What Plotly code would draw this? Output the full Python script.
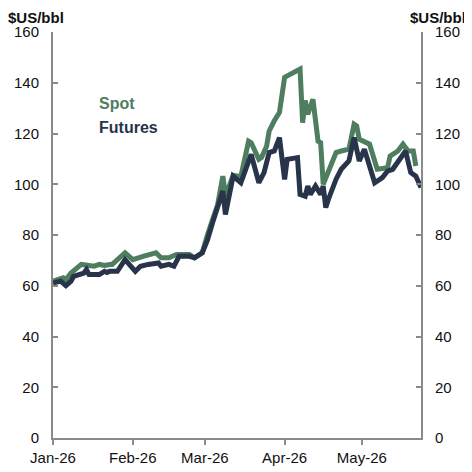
import plotly.graph_objects as go

spot_dates = ["2026-01-01","2026-01-05","2026-01-06","2026-01-08","2026-01-12","2026-01-15","2026-01-17",
              "2026-01-19","2026-01-21","2026-01-23","2026-01-24","2026-01-29","2026-02-01","2026-02-05",
              "2026-02-10","2026-02-12","2026-02-15","2026-02-18","2026-02-23","2026-02-25","2026-02-28",
              "2026-03-02","2026-03-04","2026-03-06","2026-03-08","2026-03-09","2026-03-12","2026-03-15",
              "2026-03-18","2026-03-19","2026-03-22","2026-03-23","2026-03-25","2026-03-26","2026-03-28",
              "2026-03-30","2026-04-01","2026-04-07","2026-04-08","2026-04-09","2026-04-10","2026-04-12",
              "2026-04-14","2026-04-15","2026-04-16","2026-04-20","2026-04-21","2026-04-23","2026-04-26",
              "2026-04-28","2026-04-29","2026-04-30","2026-05-04","2026-05-07","2026-05-11","2026-05-12",
              "2026-05-15","2026-05-17","2026-05-19","2026-05-21","2026-05-22"]
spot_values = [61.8,63.1,62.4,65.0,68.4,67.7,67.7,
               68.4,68.0,68.4,68.4,73.0,70.3,71.6,
               73.0,71.0,71.0,72.3,72.3,71.0,73.0,
               80.0,85.5,92.0,103.2,95.3,103.5,103.0,
               117.0,116.4,109.8,110.5,115.0,121.0,125.0,
               128.3,142.1,145.4,124.3,133.0,127.6,133.5,
               117.0,116.4,100.0,109.8,112.5,113.1,113.8,
               123.7,123.0,117.7,115.8,105.9,106.5,111.1,
               113.1,115.8,113.1,113.1,107.2]

fut_dates = ["2026-01-01","2026-01-04","2026-01-06","2026-01-08","2026-01-09","2026-01-13","2026-01-14",
             "2026-01-15","2026-01-19","2026-01-21","2026-01-22","2026-01-23","2026-01-26","2026-01-29",
             "2026-02-02","2026-02-04","2026-02-07","2026-02-11","2026-02-12","2026-02-15","2026-02-17",
             "2026-02-19","2026-02-23","2026-02-25","2026-02-28","2026-03-02","2026-03-04","2026-03-06",
             "2026-03-08","2026-03-09","2026-03-11","2026-03-12","2026-03-15","2026-03-19","2026-03-22",
             "2026-03-24","2026-03-26","2026-03-28","2026-03-30","2026-04-01","2026-04-02","2026-04-06",
             "2026-04-07","2026-04-09","2026-04-10","2026-04-11","2026-04-13","2026-04-15","2026-04-16",
             "2026-04-17","2026-04-18","2026-04-21","2026-04-23","2026-04-26","2026-04-28","2026-04-30",
             "2026-05-02","2026-05-06","2026-05-09","2026-05-11","2026-05-13","2026-05-16","2026-05-18",
             "2026-05-20","2026-05-22","2026-05-24"]
fut_values = [61.1,61.8,60.0,61.8,63.7,65.0,66.4,
              64.4,64.4,65.7,65.2,65.7,65.7,70.3,
              65.7,67.7,68.4,69.0,67.7,68.4,67.7,
              71.6,71.6,71.0,73.0,78.0,84.8,91.4,
              97.3,88.1,97.3,103.2,100.6,111.8,100.6,
              104.6,112.5,113.1,118.4,101.9,109.8,110.5,
              96.0,95.3,99.3,96.0,99.3,96.0,99.3,
              90.8,94.0,102.0,105.9,109.2,118.4,109.2,
              113.8,100.6,102.6,105.2,105.9,110.5,113.1,
              104.6,103.2,98.7]

y_ticks = [0, 20, 40, 60, 80, 100, 120, 140, 160]
x_range = ["2026-01-01", "2026-05-24"]
unit_label = "$US/bbl"

GREEN = "#4e7d5f"
NAVY = "#27344a"
AXIS = "#8a8a8a"
FONT = "Liberation Sans, Arial, sans-serif"

fig = go.Figure()
fig.add_trace(go.Scatter(x=spot_dates, y=spot_values, mode="lines", name="Spot",
                         line=dict(color=GREEN, width=5), yaxis="y"))
fig.add_trace(go.Scatter(x=fut_dates, y=fut_values, mode="lines", name="Futures",
                         line=dict(color=NAVY, width=5), yaxis="y2"))

yax = dict(range=[0, 160], tickvals=y_ticks, showgrid=False, zeroline=False,
           showline=True, linecolor=AXIS, linewidth=2, ticks="inside", ticklen=5,
           tickcolor=AXIS, tickwidth=2, tickfont=dict(family=FONT, size=15, color="#111"),
           ticklabelstandoff=9, automargin=False)

# page body has an 8px margin, so the figure is 464x464 placed at (8, 8)
fig.update_layout(
    width=464, height=464,
    margin=dict(l=45, r=51, t=24, b=34, autoexpand=False),
    paper_bgcolor="white", plot_bgcolor="white",
    showlegend=False,
    font=dict(family=FONT),
    xaxis=dict(type="date", range=x_range, dtick="M1", tick0="2026-01-01", tickformat="%b-%y",
               showgrid=False, zeroline=False, showline=True, linecolor=AXIS, linewidth=2,
               ticks="outside", ticklen=5, tickcolor=AXIS, tickwidth=2, automargin=False,
               tickfont=dict(family=FONT, size=15, color="#111")),
    yaxis=dict(**yax, side="left"),
    yaxis2=dict(**yax, side="right", overlaying="y"),
    annotations=[
        dict(text="<b>Spot</b>", x=0.12, y=0.825, xref="paper", yref="paper",
             xanchor="left", yanchor="middle", showarrow=False,
             font=dict(family=FONT, size=16, color=GREEN)),
        dict(text="<b>Futures</b>", x=0.12, y=0.766, xref="paper", yref="paper",
             xanchor="left", yanchor="middle", showarrow=False,
             font=dict(family=FONT, size=16, color=NAVY)),
        dict(text="<b>" + unit_label + "</b>", x=-0.124, y=1.059, xref="paper", yref="paper",
             xanchor="left", yanchor="top", showarrow=False, borderpad=0,
             font=dict(family=FONT, size=15, color="#111")),
        dict(text="<b>" + unit_label + "</b>", x=1.124, y=1.059, xref="paper", yref="paper",
             xanchor="right", yanchor="top", showarrow=False, borderpad=0,
             font=dict(family=FONT, size=15, color="#111")),
    ],
)

fig.write_html("out.html")
